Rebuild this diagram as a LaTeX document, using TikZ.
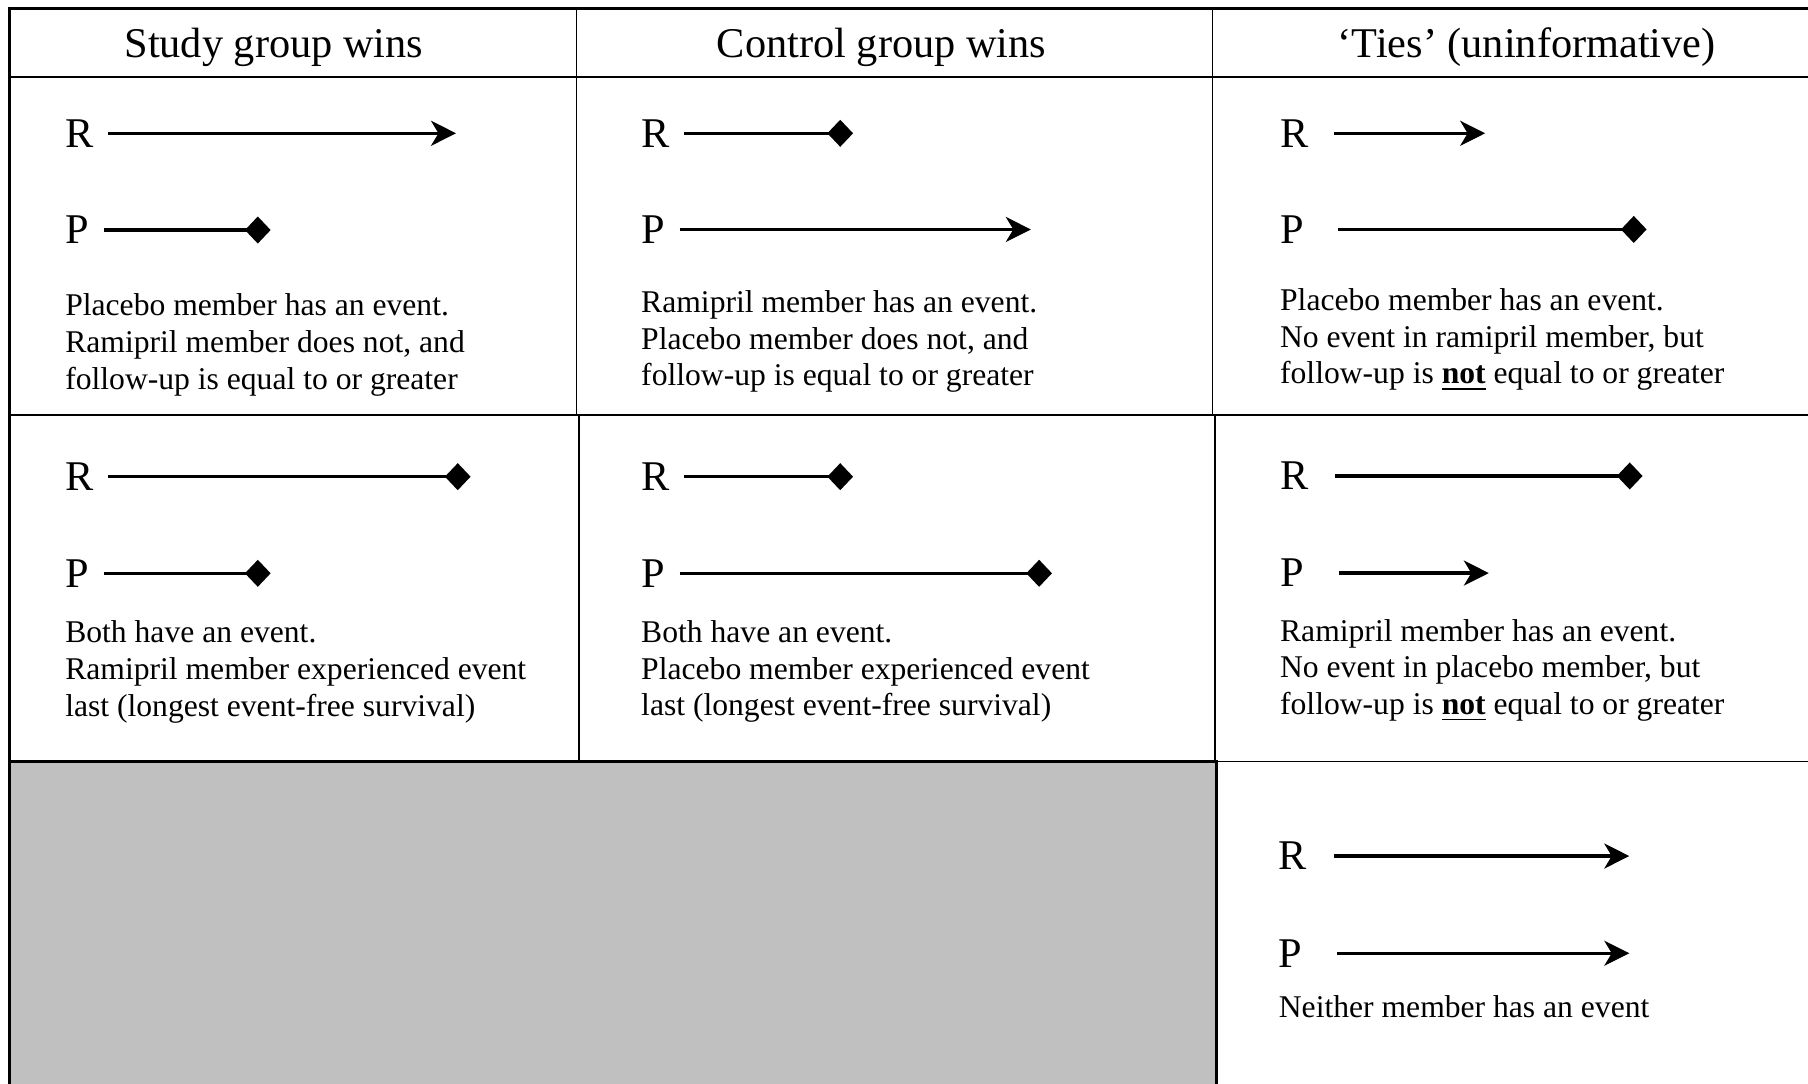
\documentclass[tikz,border=0pt]{standalone}
\usepackage{fontspec}
\setmainfont{Liberation Serif}
\usetikzlibrary{arrows.meta}
\definecolor{cellgrey}{HTML}{C0C0C0}

\begin{document}
\begin{tikzpicture}[x=0.011531cm, y=-0.011531cm,
        grid/.style={line width=0.5pt},
        frame/.style={line width=0.95pt},
        head/.style={font=\fontsize{12.05}{14}\selectfont, anchor=base},
        arm/.style={font=\fontsize{12.05}{14}\selectfont, inner sep=0pt, anchor=west},
        note/.style={font=\fontsize{9}{10.45}\selectfont, inner sep=0pt, anchor=north west, align=left},
        alive/.style={line width=0.95pt, shorten <=4pt, arrows={-Stealth[length=7.1pt, width=7.1pt, inset=2.1pt]}},
        dead/.style={line width=0.95pt, shorten <=4pt, arrows={-Diamond[length=7.3pt, width=7.7pt]}}]
        \useasboundingbox (0, 0) rectangle (1568, 940);
        \fill [cellgrey] (8, 660.5) rectangle (1055, 940);
        \draw [grid] (8, 66.5) -- (1568, 66.5);
        \draw [grid] (8, 360) -- (1568, 360);
        \draw [grid] (1055, 660.5) -- (1568, 660.5);
        \draw [grid] (500, 7.3) -- (500, 360);
        \draw [grid] (502, 360) -- (502, 660.5);
        \draw [grid] (1051.5, 7.3) -- (1051.5, 360);
        \draw [grid] (1053.5, 360) -- (1053.5, 660.5);
        \draw [frame] (8, 660.5) -- (1055, 660.5) -- (1055, 940);
        \draw [frame] (8, 940) -- (8, 7.3) -- (1568, 7.3);

        \node [head] (hstudy) at (237.5, 50) {Study group wins};
        \node [head] (hcontrol) at (764.5, 50) {Control group wins};
        \node [head] (hties) at (1324, 50) {`Ties' (uninformative)};

        \node [arm] (ra1) at (56, 115.6) {R};
        \node [arm] (pa1) at (56, 199.5) {P};
        \coordinate (ra1e) at (395.5, 115.6);
        \coordinate (pa1e) at (234.7, 199.5);
        \draw [alive] (ra1) -- (ra1e);
        \draw [dead] (pa1) -- (pa1e);
        \node [note] (ta1) at (56, 254.3) {Placebo member has an event.\\Ramipril member does not, and\\follow-up is equal to or greater};

        \node [arm] (ra2) at (555.5, 115.6) {R};
        \node [arm] (pa2) at (555.5, 199) {P};
        \coordinate (ra2e) at (739.8, 115.6);
        \coordinate (pa2e) at (894, 199);
        \draw [dead] (ra2) -- (ra2e);
        \draw [alive] (pa2) -- (pa2e);
        \node [note] (ta2) at (555.5, 251.3) {Ramipril member has an event.\\Placebo member does not, and\\follow-up is equal to or greater};

        \node [arm] (ra3) at (1109.6, 115.6) {R};
        \node [arm] (pa3) at (1109.6, 199) {P};
        \coordinate (ra3e) at (1288, 115.6);
        \coordinate (pa3e) at (1428, 199);
        \draw [alive, shorten <=7pt] (ra3) -- (ra3e);
        \draw [dead, shorten <=9.5pt] (pa3) -- (pa3e);
        \node [note] (ta3) at (1109.6, 249.5) {Placebo member has an event.\\No event in ramipril member, but\\follow-up is \underline{\textbf{not}} equal to or greater};

        \node [arm] (rb1) at (56, 413.4) {R};
        \node [arm] (pb1) at (56, 497.2) {P};
        \coordinate (rb1e) at (408.1, 413.4);
        \coordinate (pb1e) at (234.7, 497.2);
        \draw [dead] (rb1) -- (rb1e);
        \draw [dead] (pb1) -- (pb1e);
        \node [note] (tb1) at (56, 537.8) {Both have an event.\\Ramipril member experienced event\\last (longest event-free survival)};

        \node [arm] (rb2) at (555.5, 413.4) {R};
        \node [arm] (pb2) at (555.5, 497.2) {P};
        \coordinate (rb2e) at (739.8, 413.4);
        \coordinate (pb2e) at (912.3, 497.2);
        \draw [dead] (rb2) -- (rb2e);
        \draw [dead] (pb2) -- (pb2e);
        \node [note] (tb2) at (555.5, 537.5) {Both have an event.\\Placebo member experienced event\\last (longest event-free survival)};

        \node [arm] (rb3) at (1109.6, 412.8) {R};
        \node [arm] (pb3) at (1109.6, 497) {P};
        \coordinate (rb3e) at (1424.5, 412.8);
        \coordinate (pb3e) at (1291.2, 497);
        \draw [dead, shorten <=7.4pt] (rb3) -- (rb3e);
        \draw [alive, shorten <=9.8pt] (pb3) -- (pb3e);
        \node [note] (tb3) at (1109.6, 536.3) {Ramipril member has an event.\\No event in placebo member, but\\follow-up is \underline{\textbf{not}} equal to or greater};

        \node [arm] (rc3) at (1108.5, 742.4) {R};
        \node [arm] (pc3) at (1108.5, 826.7) {P};
        \coordinate (rc3e) at (1413, 742.4);
        \coordinate (pc3e) at (1413, 826.7);
        \draw [alive, shorten <=7.4pt] (rc3) -- (rc3e);
        \draw [alive, shorten <=9.6pt] (pc3) -- (pc3e);
        \node [note] (tc3) at (1108.5, 863) {Neither member has an event};
    \end{tikzpicture}
\end{document}
